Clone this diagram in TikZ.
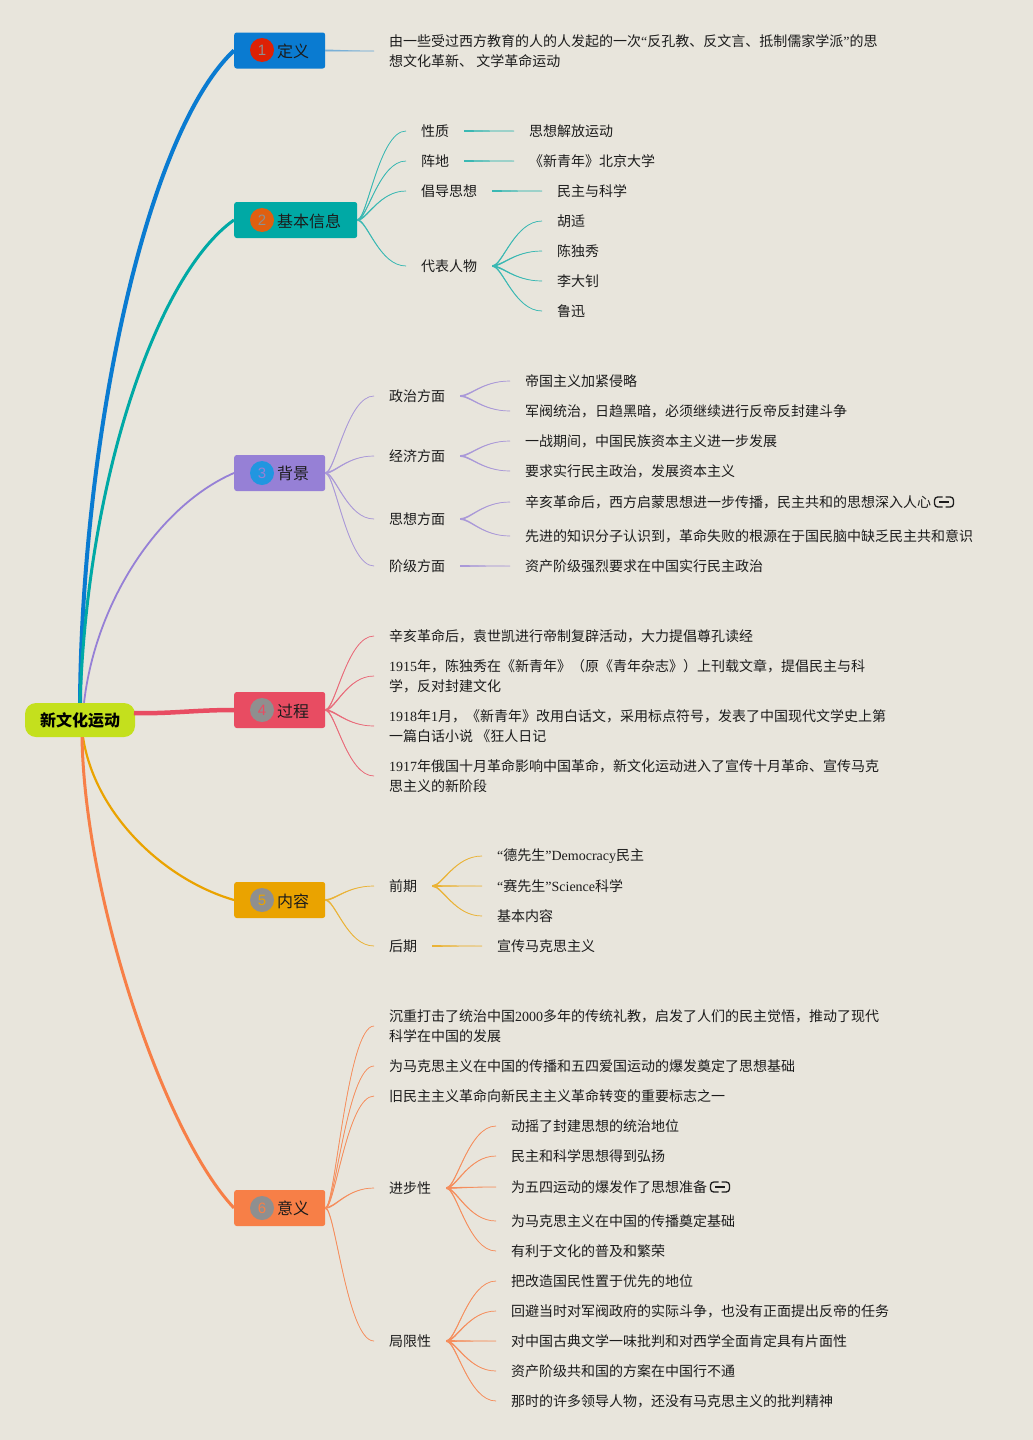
\documentclass[tikz,border=0pt]{standalone}
\usepackage{fontspec}
\usepackage{tikz}
\setmainfont{Noto Sans CJK SC}
\newfontfamily\latfont{Liberation Serif}
\newfontfamily\markfont{Liberation Sans}
\newcommand{\lat}[1]{{\latfont #1}}
\definecolor{paper}{HTML}{E8E5DC}
\definecolor{inkc}{HTML}{1C1C1C}
\definecolor{rootc}{HTML}{C4E01D}
\definecolor{bluec}{HTML}{0A7BD1}
\definecolor{tealc}{HTML}{00A9A5}
\definecolor{purplec}{HTML}{9680D6}
\definecolor{redc}{HTML}{E84C62}
\definecolor{amberc}{HTML}{EAA300}
\definecolor{orangec}{HTML}{F77F47}
\definecolor{greyc}{HTML}{8F8F8F}
\definecolor{markera}{HTML}{DD2105}
\definecolor{markerb}{HTML}{E05F10}
\definecolor{markerc}{HTML}{2196E0}
\usetikzlibrary{calc}
\tikzset{
  linkicon/.pic={
    \draw [inkc,line width=1.3,rounded corners=3.2] (-1.5,-5) -- (-9.5,-5) -- (-9.5,5) -- (-1.5,5);
    \draw [inkc,line width=1.3,rounded corners=3.2] (1.5,-5) -- (9.5,-5) -- (9.5,5) -- (1.5,5);
    \draw [inkc,line width=1.3] (-5,0) -- (5,0);
  },
  curvy/.style={to path={let \p1=(\tikztostart),\p2=(\tikztotarget) in
    -- (\x1,\y1+0.5pt)
    .. controls (0.8*\x1+0.2*\x2,\y1+0.5pt) and (0.55*\x1+0.45*\x2,\y2) .. (\x2,\y2)
    .. controls (0.55*\x1+0.45*\x2,\y2) and (0.8*\x1+0.2*\x2,\y1-0.5pt) .. (\x1,\y1-0.5pt)
    -- cycle (\tikztotarget)}}
}
\begin{document}
\begin{tikzpicture}[x=1pt,y=1pt]
\tikzstyle{every node}+=[inner sep=0pt]
\tikzstyle{leaf}=[anchor=west,inner xsep=15pt,align=left,text=inkc,font=\fontsize{14}{20}\selectfont]
\tikzstyle{topic}=[rounded corners=2.5pt,minimum height=36pt,anchor=west]
\tikzstyle{topictext}=[anchor=west,text=inkc,font=\fontsize{16}{20}\selectfont]
\tikzstyle{marker}=[circle,minimum size=24pt,font=\markfont\fontsize{15}{18}\selectfont]
\tikzstyle{bluebr}=[draw=bluec!50!paper,fill=bluec!50!paper,line width=0.8,curvy]
\tikzstyle{tealbr}=[draw=tealc!75!paper,fill=tealc!75!paper,line width=0.7,curvy]
\tikzstyle{purplebr}=[draw=purplec!75!paper,fill=purplec!75!paper,line width=0.7,curvy]
\tikzstyle{redbr}=[draw=redc!80!paper,fill=redc!80!paper,line width=0.7,curvy]
\tikzstyle{amberbr}=[draw=amberc!75!paper,fill=amberc!75!paper,line width=0.7,curvy]
\tikzstyle{orangebr}=[draw=orangec!85!paper,fill=orangec!85!paper,line width=0.7,curvy]
\fill [paper] (0,0) rectangle (1033,-1440);
\draw (80,-720) node (root) [fill=rootc,rounded corners=11pt,minimum width=110pt,minimum height=34pt,text=black,font=\fontsize{16}{20}\selectfont\bfseries] {新文化运动};
\coordinate (rootred) at (134,-713);
\draw (234,-50.5) node (defn) [topic,fill=bluec,minimum width=91pt] {};
\draw (262,-50) node (defnm) [marker,fill=markera,text=greyc] {1};
\draw (277,-51) node (defnt) [topictext] {定义};
\draw (234,-220) node (info) [topic,fill=tealc,minimum width=123pt] {};
\draw (262,-220) node (infom) [marker,fill=markerb,text=greyc] {2};
\draw (277,-221) node (infot) [topictext] {基本信息};
\draw (234,-473) node (bkgd) [topic,fill=purplec,minimum width=91pt] {};
\draw (262,-473) node (bkgdm) [marker,fill=markerc,text=purplec] {3};
\draw (277,-473) node (bkgdt) [topictext] {背景};
\draw (234,-710) node (proc) [topic,fill=redc,minimum width=91pt] {};
\draw (262,-710) node (procm) [marker,fill=greyc,text=redc] {4};
\draw (277,-711) node (proct) [topictext] {过程};
\draw (234,-900) node (cont) [topic,fill=amberc,minimum width=91pt] {};
\draw (262,-900) node (contm) [marker,fill=greyc,text=amberc] {5};
\draw (277,-901) node (contt) [topictext] {内容};
\draw (234,-1208) node (mean) [topic,fill=orangec,minimum width=91pt] {};
\draw (262,-1208) node (meanm) [marker,fill=greyc,text=orangec] {6};
\draw (277,-1208) node (meant) [topictext] {意义};
\draw [bluec,line width=4] (root.north) .. controls +(2,260) and +(-90,-85) .. (defn.west);
\draw [tealc,line width=3] (root.north) .. controls +(8,233) and +(-74,-52) .. (info.west);
\draw [purplec,line width=1.8] ([xshift=4pt]root.north) .. controls +(12,103) and +(-74,-32) .. (bkgd.west);
\draw [redc,line width=4.5] (rootred) .. controls +(35,-1) and +(-40,0) .. (proc.west);
\draw [amberc,line width=2.2] ([xshift=3pt]root.south) .. controls +(12,-78) and +(-69,20) .. (cont.west);
\draw [orangec,line width=3] ([xshift=2pt]root.south) .. controls +(3,-163) and +(-69,73) .. (mean.west);
\draw (374,-51) node (defa) [leaf] {由一些受过西方教育的人的人发起的一次\lat{“}反孔教、反文言、抵制儒家学派\lat{”}的思\\想文化革新、 文学革命运动};
\draw [bluebr] (defn.east) to (defa.west);
\draw (406,-131) node (xz) [leaf] {性质};
\draw (406,-161) node (zd) [leaf] {阵地};
\draw (406,-191) node (cd) [leaf] {倡导思想};
\draw (406,-266) node (db) [leaf] {代表人物};
\draw (514,-131) node (xza) [leaf] {思想解放运动};
\draw (514,-161) node (zda) [leaf] {《新青年》北京大学};
\draw (542,-191) node (cda) [leaf] {民主与科学};
\draw (542,-221) node (hs) [leaf] {胡适};
\draw (542,-251) node (cdx) [leaf] {陈独秀};
\draw (542,-281) node (ldz) [leaf] {李大钊};
\draw (542,-311) node (lx) [leaf] {鲁迅};
\draw [tealbr] (info.east) to (xz.west);
\draw [tealbr] (info.east) to (zd.west);
\draw [tealbr] (info.east) to (cd.west);
\draw [tealbr] (info.east) to (db.west);
\draw [tealbr] (xz.east) to (xza.west);
\draw [tealbr] (zd.east) to (zda.west);
\draw [tealbr] (cd.east) to (cda.west);
\draw [tealbr] (db.east) to (hs.west);
\draw [tealbr] (db.east) to (cdx.west);
\draw [tealbr] (db.east) to (ldz.west);
\draw [tealbr] (db.east) to (lx.west);
\draw (374,-396) node (zz) [leaf] {政治方面};
\draw (374,-456) node (jj) [leaf] {经济方面};
\draw (374,-519) node (sx) [leaf] {思想方面};
\draw (374,-566) node (jk) [leaf] {阶级方面};
\draw (510,-381) node (zza) [leaf] {帝国主义加紧侵略};
\draw (510,-411) node (zzb) [leaf] {军阀统治，日趋黑暗，必须继续进行反帝反封建斗争};
\draw (510,-441) node (jja) [leaf] {一战期间，中国民族资本主义进一步发展};
\draw (510,-471) node (jjb) [leaf] {要求实行民主政治，发展资本主义};
\draw (510,-502) node (sxa) [leaf] {辛亥革命后，西方启蒙思想进一步传播，民主共和的思想深入人心};
\draw (510,-536) node (sxb) [leaf] {先进的知识分子认识到，革命失败的根源在于国民脑中缺乏民主共和意识};
\draw (510,-566) node (jka) [leaf] {资产阶级强烈要求在中国实行民主政治};
\pic at (944,-502) {linkicon};
\draw [purplebr] (bkgd.east) to (zz.west);
\draw [purplebr] (bkgd.east) to (jj.west);
\draw [purplebr] (bkgd.east) to (sx.west);
\draw [purplebr] (bkgd.east) to (jk.west);
\draw [purplebr] (zz.east) to (zza.west);
\draw [purplebr] (zz.east) to (zzb.west);
\draw [purplebr] (jj.east) to (jja.west);
\draw [purplebr] (jj.east) to (jjb.west);
\draw [purplebr] (sx.east) to (sxa.west);
\draw [purplebr] (sx.east) to (sxb.west);
\draw [purplebr] (jk.east) to (jka.west);
\draw (374,-636) node (gca) [leaf] {辛亥革命后，袁世凯进行帝制复辟活动，大力提倡尊孔读经};
\draw (374,-676) node (gcb) [leaf] {\lat{1915}年，陈独秀在《新青年》（原《青年杂志》）上刊载文章，提倡民主与科\\学，反对封建文化};
\draw (374,-726) node (gcc) [leaf] {\lat{1918}年\lat{1}月，《新青年》改用白话文，采用标点符号，发表了中国现代文学史上第\\一篇白话小说 《狂人日记};
\draw (374,-776) node (gcd) [leaf] {\lat{1917}年俄国十月革命影响中国革命，新文化运动进入了宣传十月革命、宣传马克\\思主义的新阶段};
\draw [redbr] (proc.east) to (gca.west);
\draw [redbr] (proc.east) to (gcb.west);
\draw [redbr] (proc.east) to (gcc.west);
\draw [redbr] (proc.east) to (gcd.west);
\draw (374,-886) node (qq) [leaf] {前期};
\draw (374,-946) node (hq) [leaf] {后期};
\draw (482,-856) node (qqa) [leaf] {\lat{“}德先生\lat{”Democracy}民主};
\draw (482,-886) node (qqb) [leaf] {\lat{“}赛先生\lat{”Science}科学};
\draw (482,-916) node (qqc) [leaf] {基本内容};
\draw (482,-946) node (hqa) [leaf] {宣传马克思主义};
\draw [amberbr] (cont.east) to (qq.west);
\draw [amberbr] (cont.east) to (hq.west);
\draw [amberbr] (qq.east) to (qqa.west);
\draw [amberbr] (qq.east) to (qqb.west);
\draw [amberbr] (qq.east) to (qqc.west);
\draw [amberbr] (hq.east) to (hqa.west);
\draw (374,-1026) node (yya) [leaf] {沉重打击了统治中国\lat{2000}多年的传统礼教，启发了人们的民主觉悟，推动了现代\\科学在中国的发展};
\draw (374,-1066) node (yyb) [leaf] {为马克思主义在中国的传播和五四爱国运动的爆发奠定了思想基础};
\draw (374,-1096) node (yyc) [leaf] {旧民主主义革命向新民主主义革命转变的重要标志之一};
\draw (374,-1188) node (jb) [leaf] {进步性};
\draw (374,-1341) node (jx) [leaf] {局限性};
\draw (496,-1126) node (jba) [leaf] {动摇了封建思想的统治地位};
\draw (496,-1156) node (jbb) [leaf] {民主和科学思想得到弘扬};
\draw (496,-1187) node (jbc) [leaf] {为五四运动的爆发作了思想准备};
\draw (496,-1221) node (jbd) [leaf] {为马克思主义在中国的传播奠定基础};
\draw (496,-1251) node (jbe) [leaf] {有利于文化的普及和繁荣};
\pic at (720,-1187) {linkicon};
\draw (496,-1281) node (jxa) [leaf] {把改造国民性置于优先的地位};
\draw (496,-1311) node (jxb) [leaf] {回避当时对军阀政府的实际斗争，也没有正面提出反帝的任务};
\draw (496,-1341) node (jxc) [leaf] {对中国古典文学一味批判和对西学全面肯定具有片面性};
\draw (496,-1371) node (jxd) [leaf] {资产阶级共和国的方案在中国行不通};
\draw (496,-1401) node (jxe) [leaf] {那时的许多领导人物，还没有马克思主义的批判精神};
\draw [orangebr] (mean.east) to (yya.west);
\draw [orangebr] (mean.east) to (yyb.west);
\draw [orangebr] (mean.east) to (yyc.west);
\draw [orangebr] (mean.east) to (jb.west);
\draw [orangebr] (mean.east) to (jx.west);
\draw [orangebr] (jb.east) to (jba.west);
\draw [orangebr] (jb.east) to (jbb.west);
\draw [orangebr] (jb.east) to (jbc.west);
\draw [orangebr] (jb.east) to (jbd.west);
\draw [orangebr] (jb.east) to (jbe.west);
\draw [orangebr] (jx.east) to (jxa.west);
\draw [orangebr] (jx.east) to (jxb.west);
\draw [orangebr] (jx.east) to (jxc.west);
\draw [orangebr] (jx.east) to (jxd.west);
\draw [orangebr] (jx.east) to (jxe.west);
\end{tikzpicture}
\end{document}
